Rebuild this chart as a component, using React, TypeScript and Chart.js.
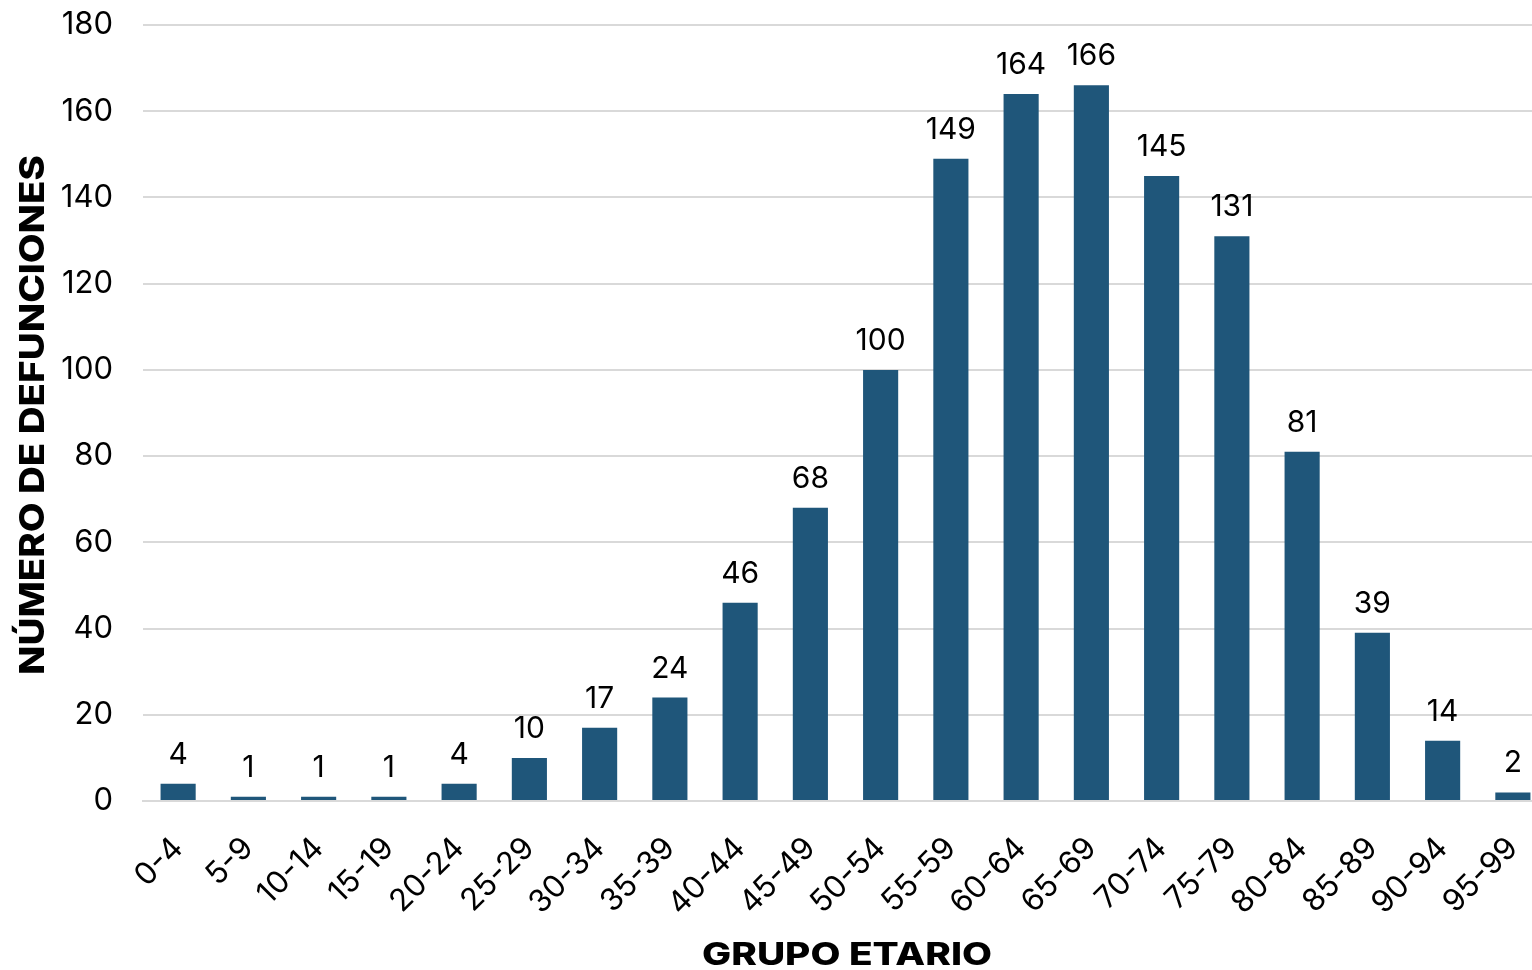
import React, { useEffect, useRef } from 'react';
import { Chart, registerables } from 'chart.js';

Chart.register(...registerables);

const categories = ['0-4', '5-9', '10-14', '15-19', '20-24', '25-29', '30-34', '35-39', '40-44', '45-49', '50-54', '55-59', '60-64', '65-69', '70-74', '75-79', '80-84', '85-89', '90-94', '95-99'];
const deaths = [4, 1, 1, 1, 4, 10, 17, 24, 46, 68, 100, 149, 164, 166, 145, 131, 81, 39, 14, 2];
const yMin = 0;
const yMax = 180;
const yStep = 20;
const xTitle = 'GRUPO ETARIO';
const yTitle = 'NÚMERO DE DEFUNCIONES';

const FONT = 'Inter, "Open Sans", sans-serif';
const BAR = '#1F567A';
const GRID = '#D9D9D9';

function drawFitted(ctx: any, text: string, width: number) {
  const w = ctx.measureText(text).width;
  ctx.scale(width / w, 1);
  ctx.fillText(text, 0, 0);
}

const labelsPlugin = {
  id: 'labelsAndTitles',
  afterDatasetsDraw(chart: any) {
    const ctx = chart.ctx;
    const meta = chart.getDatasetMeta(0);
    ctx.save();
    ctx.fillStyle = '#000';
    ctx.font = `30px ${FONT}`;
    ctx.textAlign = 'center';
    ctx.textBaseline = 'alphabetic';
    meta.data.forEach((bar: any, i: number) => {
      ctx.fillText(String(deaths[i]), bar.x, bar.y - 20);
    });
    const area = chart.chartArea;
    ctx.save();
    ctx.font = `800 31px ${FONT}`;
    ctx.translate(847, 965);
    drawFitted(ctx, xTitle, 290);
    ctx.restore();
    ctx.save();
    ctx.font = `800 34px ${FONT}`;
    ctx.translate(44, (area.top + area.bottom) / 2 + 2);
    ctx.rotate(-Math.PI / 2);
    drawFitted(ctx, yTitle, 520);
    ctx.restore();
    ctx.restore();
  },
};

export default function App() {
  const ref = useRef<HTMLCanvasElement>(null);
  useEffect(() => {
    document.body.style.margin = '0';
    document.body.style.overflow = 'hidden';
    const canvas = ref.current!;
    const chart = new Chart(canvas, {
      type: 'bar',
      data: {
        labels: categories,
        datasets: [
          {
            data: deaths,
            backgroundColor: BAR,
            barPercentage: 0.5,
            categoryPercentage: 1,
          },
        ],
      },
      options: {
        responsive: false,
        animation: false,
        devicePixelRatio: 1,
        layout: { padding: { top: 25, right: 0, left: 0, bottom: 0 } },
        plugins: { legend: { display: false }, tooltip: { enabled: false } },
        scales: {
          x: {
            grid: { display: false },
            border: { display: true, color: GRID, width: 2 },
            ticks: {
              font: { family: FONT, size: 31 },
              color: '#000',
              maxRotation: 45,
              minRotation: 45,
              padding: 21,
              autoSkip: false,
            },
            afterFit: (s: any) => {
              s.height = 169;
              s.paddingLeft = 0;
              s.paddingRight = 0;
            },
          },
          y: {
            min: yMin,
            max: yMax,
            ticks: {
              stepSize: yStep,
              font: { family: FONT, size: 31 },
              color: '#000',
              padding: 30,
            },
            grid: { color: GRID, lineWidth: 2, drawTicks: false },
            border: { display: false },
            afterFit: (s: any) => {
              s.width = 143;
              s.paddingTop = 0;
              s.paddingBottom = 0;
            },
          },
        },
      },
      plugins: [labelsPlugin],
    });
    return () => chart.destroy();
  }, []);
  return (
    <div style={{ width: 1532, height: 970, overflow: 'hidden', background: '#fff' }}>
      <canvas ref={ref} width={1548} height={970} style={{ display: 'block' }} />
    </div>
  );
}
